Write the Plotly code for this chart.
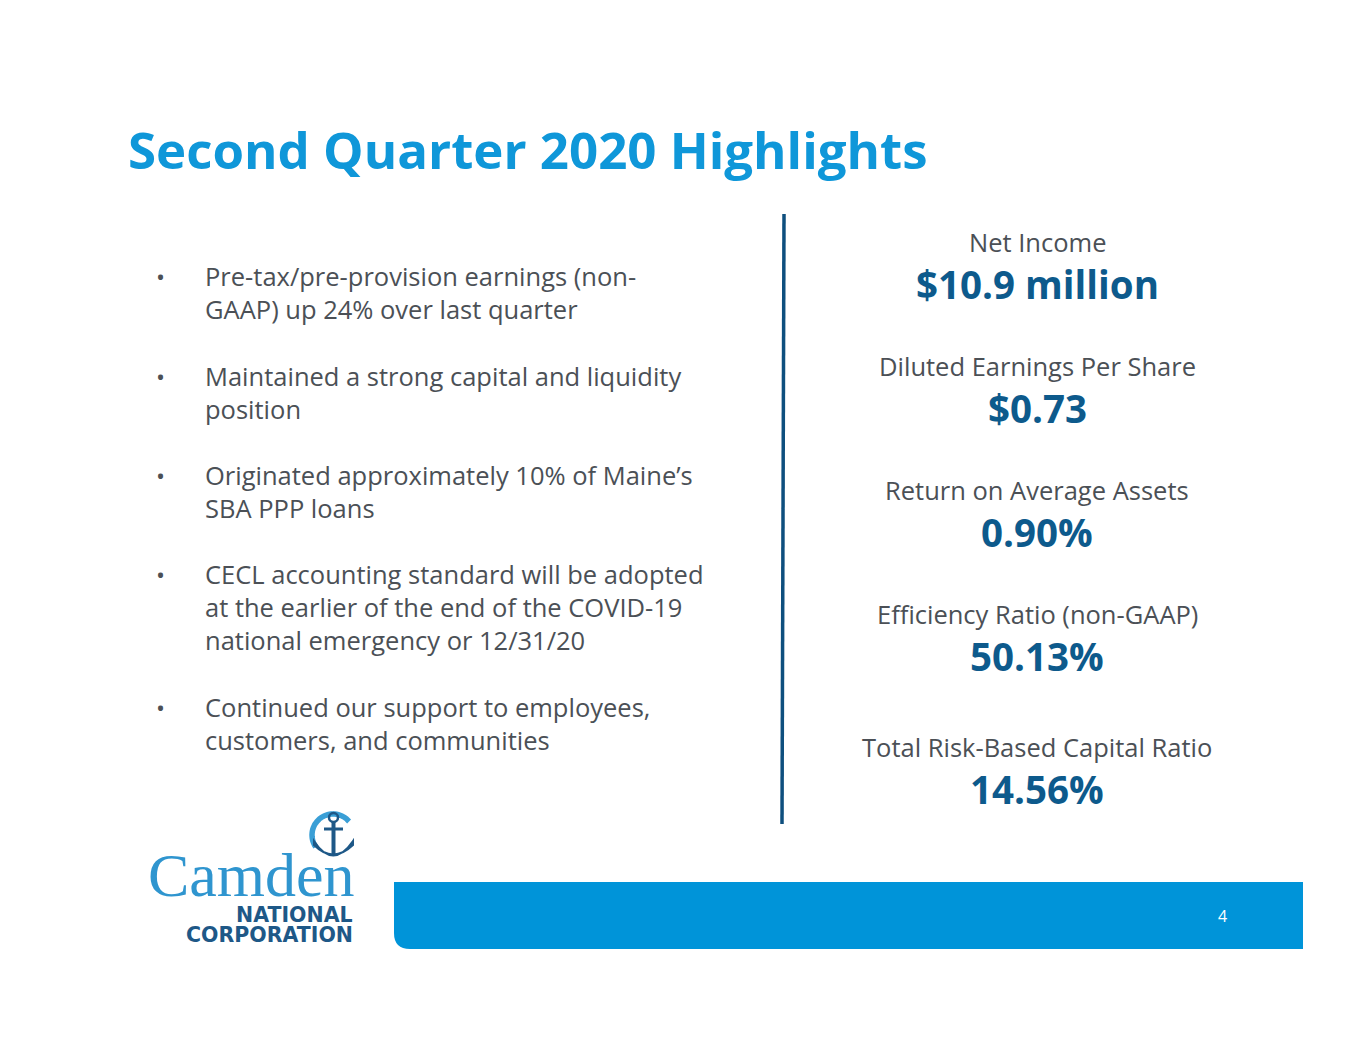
import math
import plotly.graph_objects as go

# ---- content ----
title_text = "Second Quarter 2020 Highlights"
bullets = [
    ["Pre-tax/pre-provision earnings (non-", "GAAP) up 24% over last quarter"],
    ["Maintained a strong capital and liquidity", "position"],
    ["Originated approximately 10% of Maine’s", "SBA PPP loans"],
    ["CECL accounting standard will be adopted", "at the earlier of the end of the COVID-19",
     "national emergency or 12/31/20"],
    ["Continued our support to employees,", "customers, and communities"],
]
bullet_tops = [276, 376, 475, 574, 707]
metric_labels = ["Net Income", "Diluted Earnings Per Share", "Return on Average Assets",
                 "Efficiency Ratio (non-GAAP)", "Total Risk-Based Capital Ratio"]
metric_values = ["$10.9 million", "$0.73", "0.90%", "50.13%", "14.56%"]
label_y = [242, 366, 490, 614, 747]
value_y = [284, 408, 532, 656, 789]
page_number = "4"
logo_name = "Camden"
logo_sub = ["NATIONAL", "CORPORATION"]
logo_sub_y = [915, 935]

W, H = 1365, 1055
OFF = 8  # page body margin
TITLE_C = "#0f97d9"
VALUE_C = "#0d5a8c"
LABEL_C = "#4b5056"
BAR_C = "#0094d9"
LINE_C = "#0e4f7e"
LOGO_LIGHT = "#3a9fd6"
LOGO_DARK = "#1e5887"
FONT = "Open Sans"

fig = go.Figure()
ann = []

ann.append(dict(x=126, y=149, text=f"<b>{title_text}</b>", xanchor="left", yanchor="middle",
                font=dict(family=FONT, size=51, color=TITLE_C)))

LINE_H = 33
for lines, top in zip(bullets, bullet_tops):
    ann.append(dict(x=160, y=top, text="•", xanchor="center", yanchor="middle",
                    font=dict(family=FONT, size=24, color=LABEL_C)))
    for i, ln in enumerate(lines):
        ann.append(dict(x=203, y=top + i * LINE_H, text=ln, xanchor="left", yanchor="middle",
                        font=dict(family=FONT, size=25.5, color=LABEL_C)))

for lab, val, ly, vy in zip(metric_labels, metric_values, label_y, value_y):
    ann.append(dict(x=1037, y=ly, text=lab, xanchor="center", yanchor="middle",
                    font=dict(family=FONT, size=25.5, color=LABEL_C)))
    ann.append(dict(x=1037, y=vy, text=f"<b>{val}</b>", xanchor="center", yanchor="middle",
                    font=dict(family=FONT, size=38.5, color=VALUE_C)))

ann.append(dict(x=1222, y=916, text=page_number, xanchor="center", yanchor="middle",
                font=dict(family=FONT, size=16, color="white")))

# logo text
ann.append(dict(x=251, y=875, text=logo_name, xanchor="center", yanchor="middle",
                font=dict(family="Liberation Serif", size=62, color="#2f95cf")))
for txt, yy in zip(logo_sub, logo_sub_y):
    ann.append(dict(x=355, y=yy, text=f"<b>{txt}</b>", xanchor="right", yanchor="middle",
                    font=dict(family="DejaVu Sans", size=20.5, color=LOGO_DARK)))

for a in ann:
    a.update(xref="x", yref="y", showarrow=False)

# logo arc (light blue open circle around the anchor)
cx, cy, r = 333, 835, 21
angles = [40 + k * 5 for k in range(0, 36)]
arc = " ".join(("M" if i == 0 else "L") + f" {cx + r * math.cos(math.radians(t)):.1f} "
               f"{cy - r * math.sin(math.radians(t)):.1f}" for i, t in enumerate(angles))

shapes = [
    dict(type="line", x0=784, y0=214, x1=782, y1=824, line=dict(color=LINE_C, width=3.5)),
    dict(type="path",
         path="M 410 882 L 1303 882 L 1303 949 L 410 949 Q 394 949 394 933 L 394 882 Z",
         fillcolor=BAR_C, line=dict(width=0)),
    dict(type="path", path=arc, line=dict(color=LOGO_LIGHT, width=5.5)),
    # anchor ring
    dict(type="circle", x0=329, y0=813, x1=338, y1=822, line=dict(color=LOGO_DARK, width=2.5)),
    # shank
    dict(type="line", x0=333.5, y0=822, x1=333.5, y1=855, line=dict(color=LOGO_DARK, width=4)),
    # crossbar
    dict(type="line", x0=324, y0=829, x1=343, y1=829, line=dict(color=LOGO_DARK, width=3)),
    # arms
    dict(type="path", path="M 314 841 Q 333 870 353 841 L 353 845 Q 333 864 314 845 Z",
         fillcolor=LOGO_DARK, line=dict(color=LOGO_DARK, width=2)),
]
for s in shapes:
    s.update(xref="x", yref="y", layer="above")

fig.update_layout(
    width=W - 2 * OFF, height=H - 2 * OFF, margin=dict(l=0, r=0, t=0, b=0),
    paper_bgcolor="white", plot_bgcolor="white",
    xaxis=dict(range=[OFF, W - OFF], visible=False, fixedrange=True),
    yaxis=dict(range=[H - OFF, OFF], visible=False, fixedrange=True),
    annotations=ann, shapes=shapes, showlegend=False,
)
fig.write_html("out.html")
